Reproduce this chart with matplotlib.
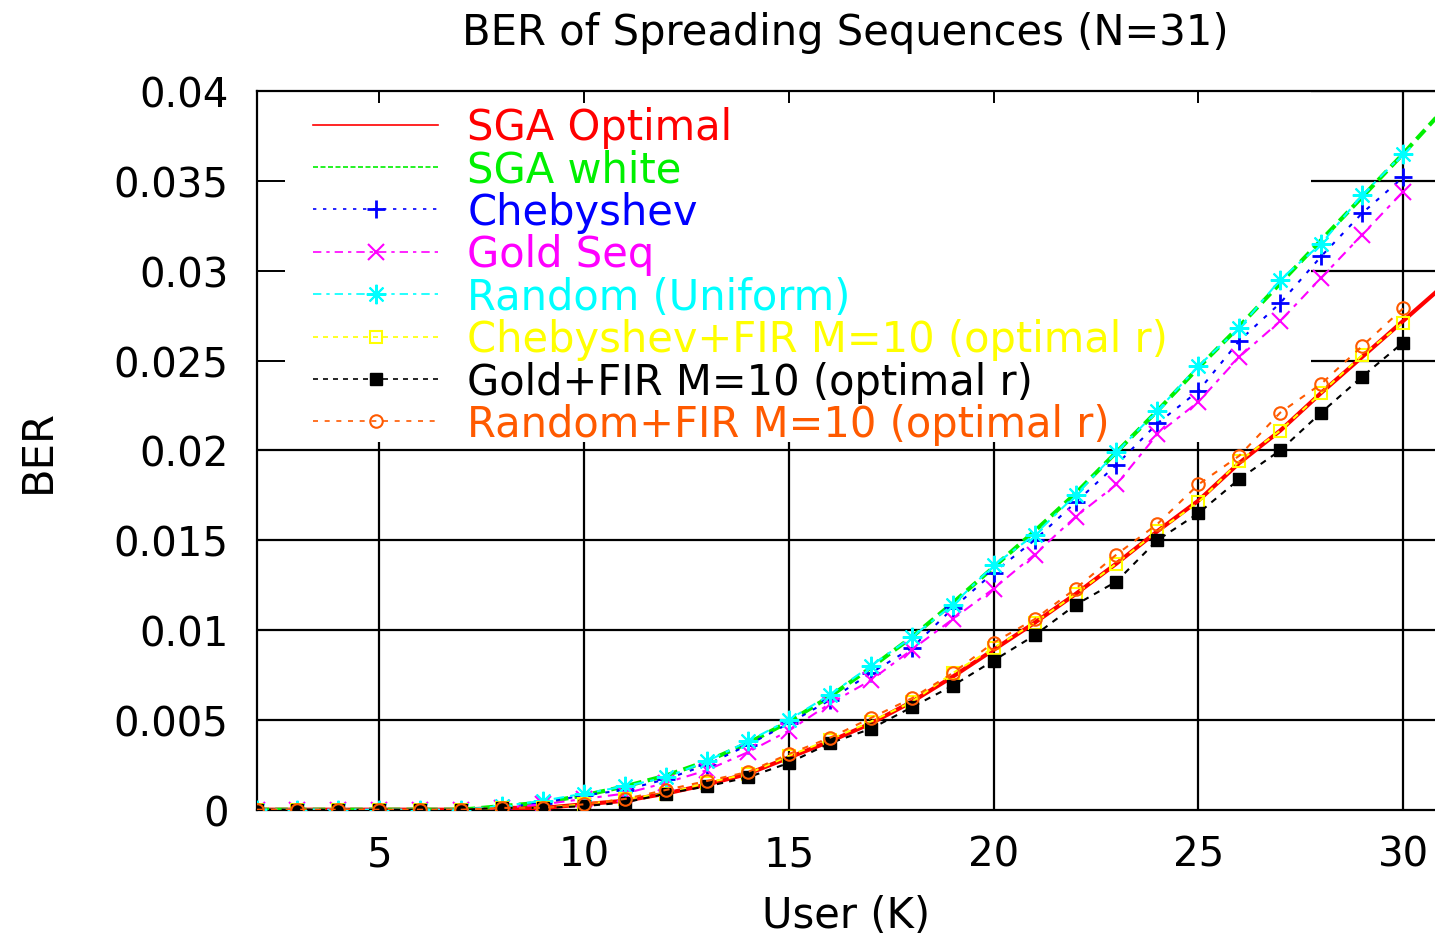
import matplotlib
matplotlib.use('Agg')
import matplotlib.pyplot as plt
from matplotlib.patches import Rectangle

# ----------------------------------------------------
# Data (BER vs number of users)
# ----------------------------------------------------
users = list(range(2, 31))          # markered series, K = 2..30
users_sga = list(range(2, 32))      # analytic SGA curves, K = 2..31

sga_optimal = [0, 0, 0, 0, 0, 0, 0.0001, 0.0001, 0.0003, 0.0005, 0.0009, 0.0014,
               0.0020, 0.0029, 0.0038, 0.0048, 0.0060, 0.0074, 0.0089, 0.0104,
               0.0120, 0.0137, 0.0155, 0.0172, 0.0193, 0.0211, 0.0232, 0.0252,
               0.0272, 0.0292]
sga_white = [0, 0, 0, 0, 0, 0, 0.0002, 0.0004, 0.0008, 0.0013, 0.0019, 0.0027,
             0.0037, 0.0049, 0.0063, 0.0079, 0.0096, 0.0115, 0.0135, 0.0155,
             0.0176, 0.0199, 0.0222, 0.0246, 0.0269, 0.0293, 0.0317, 0.0341,
             0.0365, 0.0390]
chebyshev = [0, 0, 0, 0, 0, 0, 0.0001, 0.0004, 0.0008, 0.0011, 0.0017, 0.0025,
             0.0036, 0.0048, 0.0061, 0.0076, 0.0090, 0.0112, 0.0132, 0.0150,
             0.0171, 0.0192, 0.0215, 0.0233, 0.0261, 0.0282, 0.0308, 0.0332,
             0.0352]
gold_seq = [0, 0, 0, 0, 0, 0, 0.0001, 0.0003, 0.0006, 0.0009, 0.0015, 0.0022,
            0.0032, 0.0044, 0.0059, 0.0072, 0.0089, 0.0106, 0.0123, 0.0142,
            0.0163, 0.0181, 0.0209, 0.0227, 0.0252, 0.0272, 0.0296, 0.0320,
            0.0344]
random_uniform = [0, 0, 0, 0, 0, 0, 0.0002, 0.0005, 0.0009, 0.0013, 0.0018, 0.0027,
                  0.0038, 0.0050, 0.0064, 0.0080, 0.0096, 0.0114, 0.0136, 0.0153,
                  0.0175, 0.0199, 0.0222, 0.0247, 0.0268, 0.0295, 0.0315, 0.0342,
                  0.0365]
cheb_fir = [0, 0, 0, 0, 0, 0, 0.0001, 0.0001, 0.0003, 0.0006, 0.0009, 0.0015,
            0.0020, 0.0030, 0.0039, 0.0049, 0.0060, 0.0076, 0.0090, 0.0104,
            0.0120, 0.0137, 0.0155, 0.0171, 0.0194, 0.0211, 0.0232, 0.0253,
            0.0271]
gold_fir = [0, 0, 0, 0, 0, 0, 0.0001, 0.0001, 0.0002, 0.0004, 0.0009, 0.0013,
            0.0018, 0.0026, 0.0037, 0.0045, 0.0057, 0.0069, 0.0083, 0.0097,
            0.0114, 0.0127, 0.0150, 0.0165, 0.0184, 0.0200, 0.0221, 0.0241,
            0.0260]
random_fir = [0, 0, 0, 0, 0, 0, 0.0001, 0.0001, 0.0003, 0.0006, 0.0011, 0.0016,
              0.0021, 0.0031, 0.0040, 0.0051, 0.0062, 0.0076, 0.0093, 0.0106,
              0.0123, 0.0142, 0.0159, 0.0181, 0.0197, 0.0221, 0.0237, 0.0258,
              0.0279]

x_ticks = [5, 10, 15, 20, 25, 30]
y_ticks = [0, 0.005, 0.01, 0.015, 0.02, 0.025, 0.03, 0.035, 0.04]
y_tick_labels = ['0', '0.005', '0.01', '0.015', '0.02', '0.025', '0.03', '0.035', '0.04']

ORANGE = '#ff5a00'
GREEN = '#00f000'

# ----------------------------------------------------
# Figure / axes (gnuplot-like layout, right side cropped)
# ----------------------------------------------------
W, H = 1435, 937
fig = plt.figure(figsize=(W / 100, H / 100), dpi=100)
ax_l, ax_r, ax_t, ax_b = 256.5, 1435, 92, 810.7
ax = fig.add_axes([ax_l / W, (H - ax_b) / H, (ax_r - ax_l) / W, (ax_b - ax_t) / H])

ax.set_xlim(2, 2 + (ax_r - ax_l) / 40.95)
ax.set_ylim(0, 0.04)

# grid drawn by hand so the key box can hide it (ticks stay on top)
for xt in x_ticks:
    ax.axvline(xt, color='black', lw=1.6, zorder=0.5)
for yt in y_ticks[1:]:
    ax.axhline(yt, color='black', lw=1.6, zorder=0.5)
ax.add_patch(Rectangle((0, 0.512), 0.895, 0.488, transform=ax.transAxes,
                       facecolor='white', edgecolor='none', zorder=1))

ax.plot(users_sga, sga_optimal, color='red', lw=3, label='SGA Optimal', zorder=3)
ax.plot(users_sga, sga_white, color=GREEN, lw=3, ls=(0, (3, 1.5)),
        label='SGA white', zorder=3)
ax.plot(users, chebyshev, color='blue', lw=1.5, ls=(0, (2, 4)), marker='+',
        ms=13, mew=2, label='Chebyshev', zorder=3)
ax.plot(users, gold_seq, color='magenta', lw=1.5, ls=(0, (5, 3, 2, 3)), marker='x',
        ms=11, mew=1.5, label='Gold Seq', zorder=3)
ax.plot(users, random_uniform, color='cyan', lw=1.5, ls=(0, (5, 3, 2, 3)), marker=(8, 2, 0),
        ms=14, mew=1.5, label='Random (Uniform)', zorder=3)
ax.plot(users, cheb_fir, color='yellow', lw=1.5, ls=(0, (3, 3)), marker='s',
        mfc='none', ms=9, mew=1.5, label='Chebyshev+FIR M=10 (optimal r)', zorder=3)
ax.plot(users, gold_fir, color='black', lw=1.5, ls=(0, (3, 3)), marker='s',
        ms=9, label='Gold+FIR M=10 (optimal r)', zorder=3)
ax.plot(users, random_fir, color=ORANGE, lw=1.5, ls=(0, (3, 4)), marker='o',
        mfc='none', ms=9, mew=1.5, label='Random+FIR M=10 (optimal r)', zorder=3)

ax.set_xticks(x_ticks)
ax.set_xticklabels([str(t) for t in x_ticks])
ax.set_yticks(y_ticks)
ax.set_yticklabels(y_tick_labels)
ax.tick_params(axis='x', direction='in', top=True, bottom=True, length=8.6, width=1.4,
               labelsize=29, pad=18)
ax.tick_params(axis='y', direction='in', left=True, right=False, length=20, width=1.4,
               labelsize=29, pad=20)
for side in ['left', 'bottom', 'top']:
    ax.spines[side].set_linewidth(1.6)
ax.spines['right'].set_visible(False)

ax.set_xlabel('User (K)', fontsize=30)
ax.set_ylabel('BER', fontsize=30)
ax.xaxis.set_label_coords(0.5, -0.117)
ax.yaxis.set_label_coords(-0.168, 0.5)
ax.set_title('BER of Spreading Sequences (N=31)', fontsize=30, pad=34)

leg = ax.legend(loc='upper left', bbox_to_anchor=(0.048, 0.979), borderaxespad=0,
                borderpad=0, frameon=False, handlelength=3.0, handletextpad=0.7,
                labelspacing=0.01, labelcolor='linecolor', fontsize=30, numpoints=1)
for h in leg.legend_handles:
    h.set_linewidth(1.2)

fig.savefig('out.png', dpi=100)
